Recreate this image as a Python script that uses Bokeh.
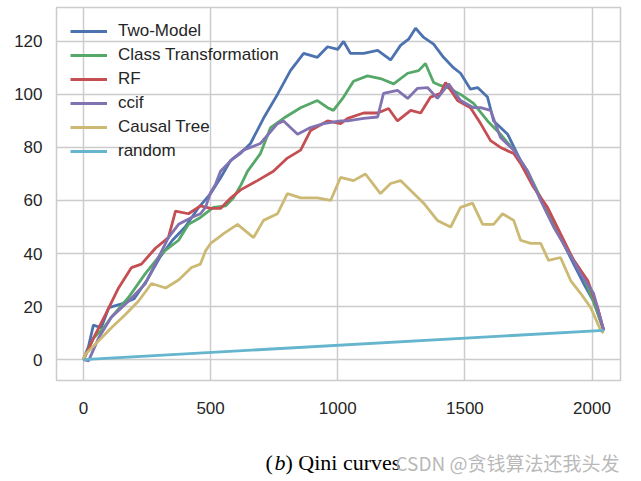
from bokeh.plotting import figure
from bokeh.layouts import column
from bokeh.models import Legend, LegendItem, Range1d, FixedTicker
from bokeh.core.properties import value
from bokeh.embed import file_html
from bokeh.resources import INLINE

# ---- data ----
x_two = [0, 20, 39, 70, 100, 150, 200, 250, 300, 350, 400, 450, 500, 540, 578, 620, 657, 708, 763, 814,
         866, 920, 960, 1000, 1023, 1050, 1102, 1157, 1208, 1247, 1280, 1306, 1338, 1377, 1416, 1456, 1483,
         1522, 1550, 1589, 1613, 1668, 1719, 1770, 1825, 1876, 1928, 1967, 2006, 2046]
y_two = [0, 5, 13, 12, 19.6, 21, 23, 30, 38.5, 45, 50, 57, 62.6, 68.7, 75, 78, 81.5, 91, 100, 109,
         115.5, 114, 118, 117, 120, 115.5, 115.5, 116.6, 113, 118.5, 121, 125, 121.5, 119, 114, 110, 108,
         102, 102.6, 99, 90, 85, 75, 66, 55, 46, 36, 28.7, 22, 11]

x_ct = [0, 39, 80, 110, 177, 244, 307, 374, 413, 460, 511, 560, 590, 620, 645, 696, 736, 787, 854, 920,
        960, 983, 1023, 1062, 1117, 1168, 1220, 1275, 1318, 1345, 1377, 1404, 1432, 1483, 1534, 1589, 1640,
        1692, 1747, 1798, 1849, 1904, 1955, 2006, 2046]
y_ct = [0, 8, 12, 16, 23.4, 32.5, 40, 45, 51, 53.6, 57.4, 58, 61, 66, 71, 77.7, 87.5, 91, 95, 97.7,
        95, 94, 99, 105, 107, 106, 104, 108, 109, 111.7, 104.5, 103.4, 102.6, 100, 96.6, 90, 85,
        79, 71, 61, 51, 41, 33.6, 22, 11]

x_rf = [0, 39, 87, 138, 189, 228, 283, 334, 362, 413, 460, 500, 539, 580, 618, 684, 747, 802, 854, 893,
        960, 1011, 1039, 1102, 1157, 1200, 1235, 1287, 1326, 1365, 1404, 1424, 1471, 1522, 1562, 1601,
        1640, 1692, 1719, 1770, 1825, 1876, 1928, 1983, 2022, 2046]
y_rf = [0, 8, 17, 27, 34.7, 36, 42, 46, 56, 55, 58, 57, 57, 61, 64, 67.5, 71, 76, 79, 86.4,
        90, 89, 91, 93, 93, 94.7, 90, 94, 93, 99, 100.4, 104.5, 97.7, 95, 89, 82.6,
        80, 77.7, 74, 65, 57.4, 47.5, 37.4, 29.8, 19.6, 11]

x_ccif = [0, 20, 59, 110, 177, 244, 295, 334, 374, 425, 460, 480, 500, 519, 539, 590, 629, 696, 763, 787,
          842, 893, 944, 1011, 1039, 1102, 1157, 1180, 1235, 1275, 1314, 1353, 1392, 1436, 1483, 1534,
          1562, 1601, 1640, 1692, 1747, 1798, 1849, 1904, 1955, 2006, 2046]
y_ccif = [0, -0.5, 8, 16, 22, 28.7, 38.5, 46, 51, 53.6, 55, 57.4, 63, 66, 71, 76, 79, 81.5, 89, 90,
          85, 87.5, 89, 90, 90, 91, 91.5, 100.4, 101.5, 98.5, 102.3, 102.6, 98.5, 104, 97.7, 95,
          95, 94, 83.8, 79, 71, 60, 50, 41, 32.5, 25, 11]

x_tree = [0, 8, 59, 110, 165, 216, 268, 323, 374, 425, 460, 480, 500, 531, 551, 606, 669, 708, 763, 802,
          854, 920, 972, 1011, 1062, 1109, 1168, 1208, 1247, 1287, 1338, 1392, 1444, 1483, 1530, 1570,
          1613, 1648, 1692, 1719, 1759, 1798, 1829, 1876, 1916, 1955, 1995, 2034, 2046]
y_tree = [0, 2, 7, 12, 17, 22, 28.7, 27, 30, 34.7, 36, 41, 43.8, 46, 47.5, 51, 46, 52.5, 55, 62.6,
          61, 61, 60, 68.7, 67.5, 70, 62.6, 66.4, 67.5, 63.8, 59, 52.5, 50, 57.4, 59, 51,
          51, 55, 52.5, 45, 43.8, 43.8, 37.4, 38.5, 29.8, 25, 19.6, 11, 10]

x_rand = [0, 2046]
y_rand = [0, 11]

series_names = ["Two-Model", "Class Transformation", "RF", "ccif", "Causal Tree", "random"]
series_colors = ["#4C72B0", "#55A868", "#C44E52", "#8172B2", "#CCB974", "#64B5CD"]
x_ticks = [0, 500, 1000, 1500, 2000]
y_ticks = [0, 20, 40, 60, 80, 100, 120]
caption_parts = ["(", "b", ") Qini curves"]
watermark = "CSDN @贪钱算法还我头发"

# ---- main figure ----
p = figure(frame_width=564, frame_height=373,
           x_range=Range1d(-106, 2112), y_range=Range1d(-7.9, 132.8),
           output_backend="svg", toolbar_location=None,
           min_border_left=56, min_border_right=20, min_border_top=7, min_border_bottom=50)
p.background_fill_color = "white"
p.border_fill_color = "white"
p.outline_line_color = "#cccccc"
p.outline_line_width = 1.5

for ax in (p.xaxis, p.yaxis):
    ax.axis_line_color = None
    ax.major_tick_line_color = None
    ax.minor_tick_line_color = None
    ax.major_label_text_font = "Liberation Sans"
    ax.major_label_text_font_size = "17px"
    ax.major_label_text_color = "#262626"
p.xaxis.ticker = FixedTicker(ticks=x_ticks)
p.yaxis.ticker = FixedTicker(ticks=y_ticks)
p.xaxis.major_label_standoff = 15
p.yaxis.major_label_standoff = 8

p.xgrid.grid_line_color = "#cccccc"
p.ygrid.grid_line_color = "#cccccc"
p.xgrid.grid_line_width = 1.5
p.ygrid.grid_line_width = 1.5

xs = [x_two, x_ct, x_rf, x_ccif, x_tree, x_rand]
ys = [y_two, y_ct, y_rf, y_ccif, y_tree, y_rand]
items = []
for name, color, xv, yv in zip(series_names, series_colors, xs, ys):
    r = p.line(xv, yv, line_color=color, line_width=2.8)
    items.append(LegendItem(label=name, renderers=[r]))

legend = Legend(items=items, location="top_left",
                label_text_font="Liberation Sans", label_text_font_size="17px",
                label_text_color="#262626",
                glyph_width=37, glyph_height=20, label_height=20, spacing=4,
                padding=14, margin=0, label_standoff=11,
                background_fill_alpha=0, border_line_alpha=0)
p.add_layout(legend, "center")

# ---- caption strip (its frame is aligned with the main frame: page px 56..620) ----
c = figure(width=640, height=50, x_range=Range1d(56, 620), y_range=Range1d(0, 50),
           output_backend="svg", toolbar_location=None, min_border=0,
           x_axis_location=None, y_axis_location=None)
c.grid.visible = False
c.outline_line_color = None
c.background_fill_color = "white"
c.border_fill_color = "white"
cap_y = 18
c.text(x=[265], y=[cap_y], text=[caption_parts[0]], text_font=value("Liberation Serif"),
       text_font_size="22px", text_color="black", text_baseline="middle")
c.text(x=[274], y=[cap_y], text=[caption_parts[1]], text_font=value("Liberation Serif"),
       text_font_style="italic", text_font_size="22px", text_color="black", text_baseline="middle")
c.text(x=[285], y=[cap_y], text=[caption_parts[2]], text_font=value("Liberation Serif"),
       text_font_size="22px", text_color="black", text_baseline="middle")
c.text(x=[395], y=[cap_y], text=[watermark], text_font=value("Noto Sans CJK SC"),
       text_font_size="19px", text_color="#b0b0b0", text_alpha=0.9, text_baseline="middle")

layout = column(p, c, spacing=0)
open("out.html", "w").write(file_html(layout, INLINE))
